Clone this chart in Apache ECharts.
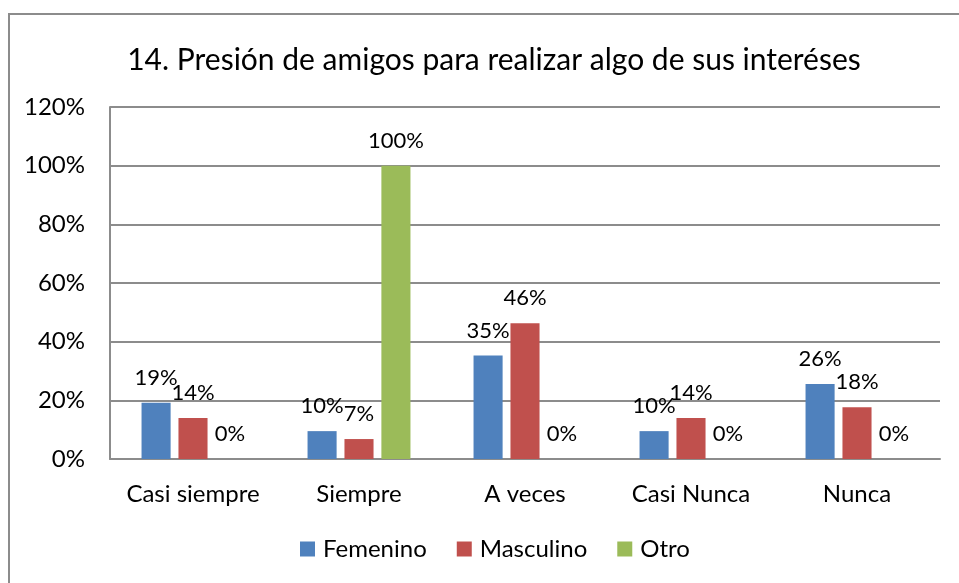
<!DOCTYPE html>
<html>
<head>
<meta charset="utf-8">
<script src="https://cdn.jsdelivr.net/npm/echarts@6/dist/echarts.min.js"></script>
<style>
  html, body { margin: 0; padding: 0; background: #fff; }
  #frame {
    position: absolute; left: 8px; top: 13px; width: 1000px; height: 640px;
    border: 2px solid #8c8c8c; box-sizing: border-box;
  }
  #chart { position: absolute; left: 0; top: 0; width: 959px; height: 583px; }
</style>
</head>
<body>
<div id="frame"></div>
<div id="chart"></div>
<script>
const categories = ['Casi siempre', 'Siempre', 'A veces', 'Casi Nunca', 'Nunca'];
const femenino = [19.2, 9.5, 35.3, 9.5, 25.6];
const masculino = [14.0, 6.8, 46.3, 14.0, 17.6];
const otro = [0, 100, 0, 0, 0];
const femeninoLabels = ['19%', '10%', '35%', '10%', '26%'];
const masculinoLabels = ['14%', '7%', '46%', '14%', '18%'];
const otroLabels = ['0%', '100%', '0%', '0%', '0%'];
const yTicks = [0, 20, 40, 60, 80, 100, 120];

const font = 'Lato, "Open Sans", sans-serif';
const chart = echarts.init(document.getElementById('chart'), null, { renderer: 'canvas' });

const makeSeries = (name, data, labels, color) => ({
  name,
  type: 'bar',
  data,
  barGap: '27%',
  barCategoryGap: '38%',
  itemStyle: { color },
  label: {
    show: true,
    position: 'top',
    distance: 14,
    color: '#000',
    fontFamily: font,
    fontSize: 22,
    formatter: (p) => labels[p.dataIndex],
  },
});

chart.setOption({
  animation: false,
  title: {
    text: '14. Presión de amigos para realizar algo de sus interéses',
    left: 489,
    top: 40,
    textAlign: 'center',
    textStyle: { fontFamily: font, fontSize: 30, fontWeight: 'normal', color: '#000' },
  },
  legend: {
    bottom: 17,
    left: 295,
    itemWidth: 15,
    itemHeight: 15,
    itemGap: 30,
    icon: 'rect',
    textStyle: { fontFamily: font, fontSize: 24, color: '#000', padding: [0, 0, 0, 3] },
  },
  grid: { left: 110, right: 19, top: 107, bottom: 124 },
  xAxis: {
    type: 'category',
    data: categories,
    axisLine: { lineStyle: { color: '#8c8c8c', width: 2 } },
    axisTick: { show: false },
    axisLabel: { fontFamily: font, fontSize: 24, color: '#000', margin: 23, interval: 0 },
  },
  yAxis: {
    type: 'value',
    min: yTicks[0],
    max: yTicks[yTicks.length - 1],
    interval: yTicks[1] - yTicks[0],
    axisLine: { show: true, lineStyle: { color: '#8c8c8c', width: 2 } },
    splitLine: { lineStyle: { color: '#8c8c8c', width: 2 } },
    axisLabel: { fontFamily: font, fontSize: 24, color: '#000', margin: 25, formatter: '{value}%' },
  },
  series: [
    makeSeries('Femenino', femenino, femeninoLabels, '#4F81BD'),
    makeSeries('Masculino', masculino, masculinoLabels, '#C0504D'),
    makeSeries('Otro', otro, otroLabels, '#9BBB59'),
  ],
});
</script>
</body>
</html>
